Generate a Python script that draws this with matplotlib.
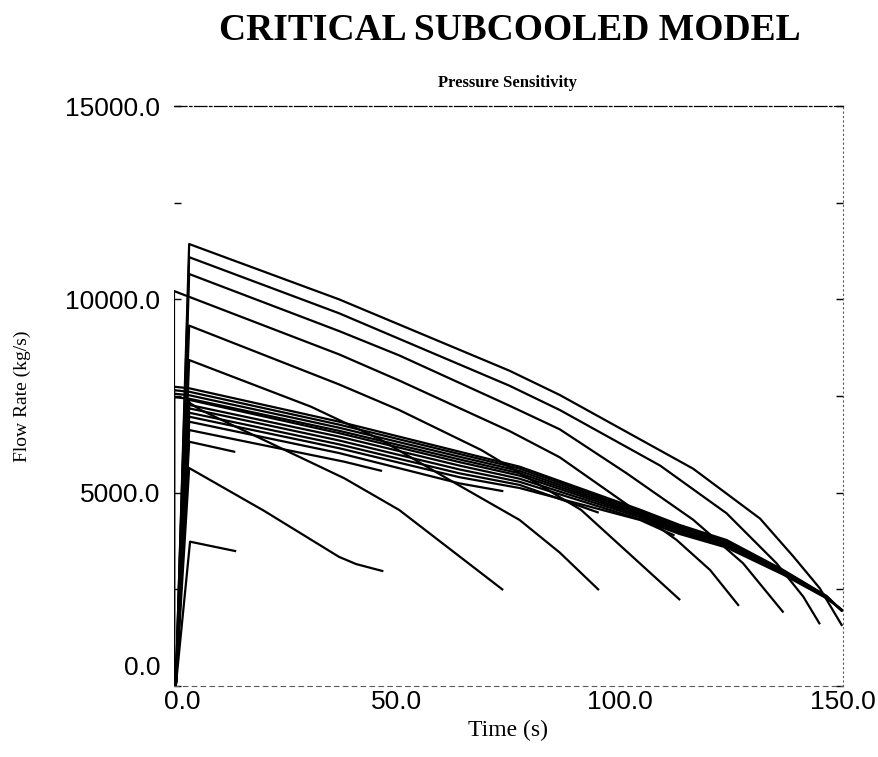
"""Critical subcooled model - pressure sensitivity flow traces."""

import matplotlib
matplotlib.use("Agg")
import matplotlib.pyplot as plt
import matplotlib.transforms as mtransforms

# Traces: (time s, flow rate kg/s)
curve_a = [(0.4, 0), (3.4, 11430), (37, 10000), (75.2, 8155), (86.5, 7526),
           (116.4, 5620), (131.4, 4330), (138.9, 3345), (144.8, 2526),
           (149.7, 1578)]
curve_b = [(0.4, 0), (3.4, 11090), (37, 9640), (75.2, 7767), (86.5, 7138),
           (109, 5700), (123.9, 4466), (135.1, 3173), (141.1, 2310),
           (144.7, 1621)]
curve_c = [(0.4, 0), (3.4, 10655), (37, 9180), (50.5, 8550), (75.2, 7250),
           (86.5, 6638), (101.5, 5500), (116.4, 4300), (127.6, 3173),
           (136.5, 1922)]
curve_d = [(0, 0), (0, 10215), (37, 8577), (50.5, 7900), (75.2, 6595),
           (86.5, 5914), (101.5, 4700), (112.7, 3776), (120.2, 3000),
           (126.5, 2095)]
curve_e = [(0.4, 0), (3.4, 9320), (37, 7800), (50.5, 7137), (68.9, 6103),
           (91.3, 4552), (113.3, 2242)]
curve_f = [(0.4, 0), (3.4, 8430), (30.7, 7224), (46, 6390), (61.8, 5328),
           (77.5, 4293), (86.5, 3450), (95.1, 2500)]
curve_g = [(0.4, 0), (3.4, 7330), (6, 7138), (38.2, 5371), (50.5, 4552),
           (73.6, 2500)]
curve_h = [(0.4, 0), (3.4, 5637), (20.2, 4530), (37, 3340), (40.8, 3155),
           (46.7, 2975)]
curve_i = [(0.4, 0), (3.6, 3732), (13.7, 3491)]
curve_j = [(0.4, 0), (3.4, 6318), (13.5, 6060)]
curve_k = [(0.4, 0), (3.4, 6620), (38.2, 5800), (46.4, 5568)]

# the converging band in the middle
band_1 = [(0, 0), (0, 7740), (3.4, 7700), (37, 6836), (64, 6060), (77.5, 5672),
          (104.5, 4560), (113.4, 4164), (123.9, 3776), (136.6, 3000),
          (146.3, 2330), (149.7, 1948)]
band_2 = [(0, 0), (0, 7650), (3.4, 7610), (37, 6760), (64, 6000), (77.5, 5620),
          (104.5, 4520), (113.4, 4130), (123.9, 3740), (136.6, 2980),
          (146.3, 2320), (149.7, 1950)]
band_3 = [(0, 0), (0, 7560), (3.4, 7520), (37, 6680), (64, 5930), (77.5, 5560),
          (104.5, 4480), (113.4, 4090), (123.9, 3700), (136.6, 2960),
          (146.3, 2310), (149.7, 1955)]
band_4 = [(0, 0), (0, 7470), (3.4, 7430), (37, 6600), (64, 5860), (77.5, 5500),
          (104.5, 4440), (113.4, 4050), (123.9, 3670), (136.6, 2940),
          (146.3, 2300), (149.7, 1960)]
band_5 = [(0.4, 0), (3.4, 7400), (37, 6540), (64, 5790), (77.5, 5440),
          (104.5, 4400), (113.4, 4010), (123.9, 3640), (136.6, 2920),
          (146.3, 2290), (149.7, 1965)]
band_6 = [(0.4, 0), (3.4, 7270), (37, 6450), (64, 5700), (77.5, 5360),
          (104.5, 4360), (113.4, 3970), (123.9, 3610), (136.6, 2900),
          (146.3, 2280), (149.7, 1970)]
band_7 = [(0.4, 0), (3.4, 7180), (37, 6350), (64, 5600), (77.5, 5280),
          (104.5, 4310), (113.4, 3930), (123.9, 3580), (136.6, 2880),
          (146.3, 2270), (149.7, 1975)]
band_8 = [(0.4, 0), (3.4, 7068), (37, 6250), (64, 5500), (77.5, 5200),
          (95, 4492)]
band_9 = [(0.4, 0), (3.4, 6965), (37, 6150), (64, 5400), (77.5, 5120),
          (104.5, 4293), (112, 3905)]
band_10 = [(0.4, 0), (3.4, 6836), (37, 6025), (64, 5240), (73.6, 5043)]

traces = [curve_a, curve_b, curve_c, curve_d, curve_e, curve_f, curve_g,
          curve_h, curve_i, curve_j, curve_k,
          band_1, band_2, band_3, band_4, band_5, band_6, band_7, band_8,
          band_9, band_10]

y_ticks = [0, 5000, 10000, 15000]
y_minor = [2500, 7500, 12500]
x_ticks = [0, 50, 100, 150]

SERIF = "Liberation Serif"
SANS = "Liberation Sans"

W, H = 879, 757
fig = plt.figure(figsize=(W / 100, H / 100), dpi=100)
ax = fig.add_axes([174 / W, 1 - 686 / H, (843 - 174) / W, (686 - 106) / H])

for tr in traces:
    ax.plot([p[0] for p in tr], [p[1] for p in tr], color="black",
            linewidth=1.6, solid_joinstyle="round")

ax.set_xlim(0, 150)
ax.set_ylim(0, 15000)

# scanned-looking frame
ax.spines["left"].set_visible(False)
ax.spines["top"].set_linestyle((0, (10, 2, 2, 2)))
ax.spines["top"].set_linewidth(0.9)
ax.spines["right"].set_linestyle((0, (1, 3)))
ax.spines["right"].set_linewidth(0.8)
ax.spines["right"].set_color("0.35")
ax.spines["bottom"].set_linestyle((0, (4, 4)))
ax.spines["bottom"].set_linewidth(0.8)
ax.spines["bottom"].set_color("0.35")

ax.set_yticks(y_ticks)
ax.set_yticks(y_minor, minor=True)
ax.set_yticklabels([f"{v:.1f}" for v in y_ticks], fontfamily=SANS, fontsize=19)
ax.set_xticks(x_ticks)
ax.set_xticklabels([f"{v:.1f}" for v in x_ticks], fontfamily=SANS, fontsize=19)
ax.tick_params(axis="y", which="both", direction="in", length=5, width=1,
               left=True, right=True, pad=10)
ax.tick_params(axis="x", length=0, pad=3)

# the bottom y label sits above the axis, the first x label is nudged right
lab_y0 = ax.get_yticklabels()[0]
lab_y0.set_verticalalignment("bottom")
lab_y0.set_transform(lab_y0.get_transform() +
                     mtransforms.ScaledTranslation(0, 6 / 100, fig.dpi_scale_trans))
lab_x0 = ax.get_xticklabels()[0]
lab_x0.set_transform(lab_x0.get_transform() +
                     mtransforms.ScaledTranslation(8 / 100, 0, fig.dpi_scale_trans))

fig.text(510 / W, 1 - 30 / H, "CRITICAL SUBCOOLED MODEL", ha="center",
         va="center", fontfamily=SERIF, fontweight="bold", fontsize=27)
fig.text(508 / W, 1 - 83 / H, "Pressure Sensitivity", ha="center", va="center",
         fontfamily=SERIF, fontweight="bold", fontsize=12)
fig.text(508 / W, 1 - 730 / H, "Time (s)", ha="center", va="center",
         fontfamily=SERIF, fontsize=17)
fig.text(22 / W, 1 - 396 / H, "Flow Rate (kg/s)", ha="center", va="center",
         rotation=90, fontfamily=SERIF, fontsize=14)

fig.savefig("out.png", dpi=100)
